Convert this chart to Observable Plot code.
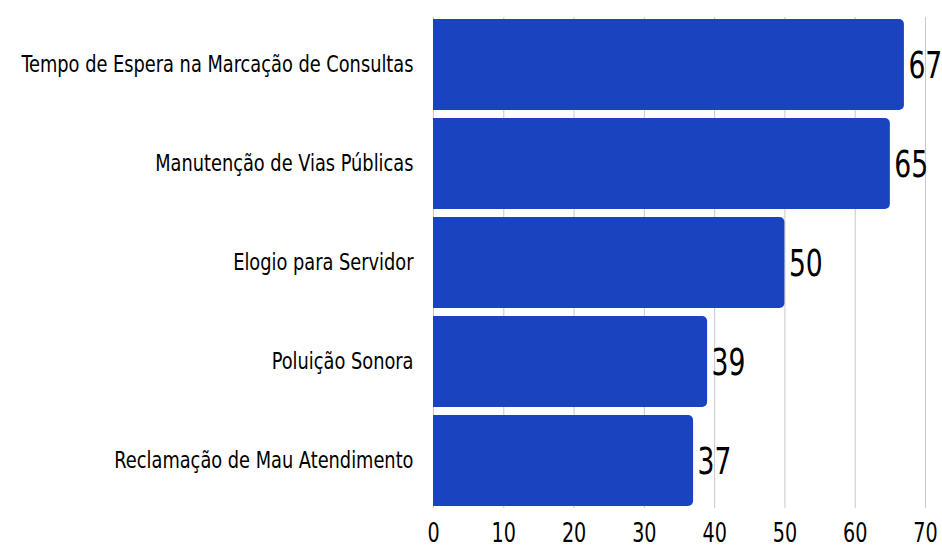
<!DOCTYPE html>
<html>
<head>
<meta charset="utf-8">
<script src="https://cdn.jsdelivr.net/npm/d3@7"></script>
<script src="https://cdn.jsdelivr.net/npm/@observablehq/plot@0.6"></script>
<style>
  html, body { margin: 0; padding: 0; background: #fff; }
  #chart svg { display: block; }
</style>
</head>
<body>
<div id="chart"></div>
<script>
const categories = [
  "Tempo de Espera na Marcação de Consultas",
  "Manutenção de Vias Públicas",
  "Elogio para Servidor",
  "Poluição Sonora",
  "Reclamação de Mau Atendimento"
];
const values = [67, 65, 50, 39, 37];
const xTicks = [0, 10, 20, 30, 40, 50, 60, 70];

const data = categories.map((c, i) => ({category: c, value: values[i]}));
const font = "'DejaVu Sans Condensed', 'DejaVu Sans', sans-serif";
const barColor = "#1a43bf";

const chart = Plot.plot({
  width: 942,
  height: 548,
  marginLeft: 433,
  marginRight: 17,
  marginTop: 17,
  marginBottom: 40,
  style: {fontFamily: font, color: "#000", background: "#fff"},
  x: {domain: [0, 70], ticks: xTicks, label: null, grid: false},
  y: {domain: categories, paddingInner: 0.08, paddingOuter: 0, label: null},
  marks: [
    Plot.gridX(xTicks, {stroke: "#c8c8c8", strokeOpacity: 1, strokeWidth: 1}),
    Plot.barX(data, {x: "value", y: "category", fill: barColor, rx: 5}),
    Plot.barX(data, {x1: 0, x2: d => d.value - 1, y: "category", fill: barColor}),
    Plot.text(data, {
      x: "value", y: "category", text: d => String(d.value),
      textAnchor: "start", dx: 4, dy: 1, fontSize: 37, fill: "#000"
    }),
    Plot.axisX(xTicks, {tickSize: 0, tickPadding: 15, fontSize: 26, fill: "#000", label: null}),
    Plot.axisY({tickSize: 0, tickPadding: 20, fontSize: 23, fill: "#000", label: null})
  ]
});

function squeeze(selector, sx) {
  chart.querySelectorAll(selector).forEach(t => {
    const tr = t.getAttribute("transform") || "";
    t.setAttribute("transform", tr + ` scale(${sx},1)`);
  });
}
squeeze("g[aria-label='y-axis tick label'] text", 0.86);
squeeze("g[aria-label='x-axis tick label'] text", 0.82);
squeeze("g[aria-label='text'] text", 0.8);

document.getElementById("chart").appendChild(chart);
</script>
</body>
</html>
